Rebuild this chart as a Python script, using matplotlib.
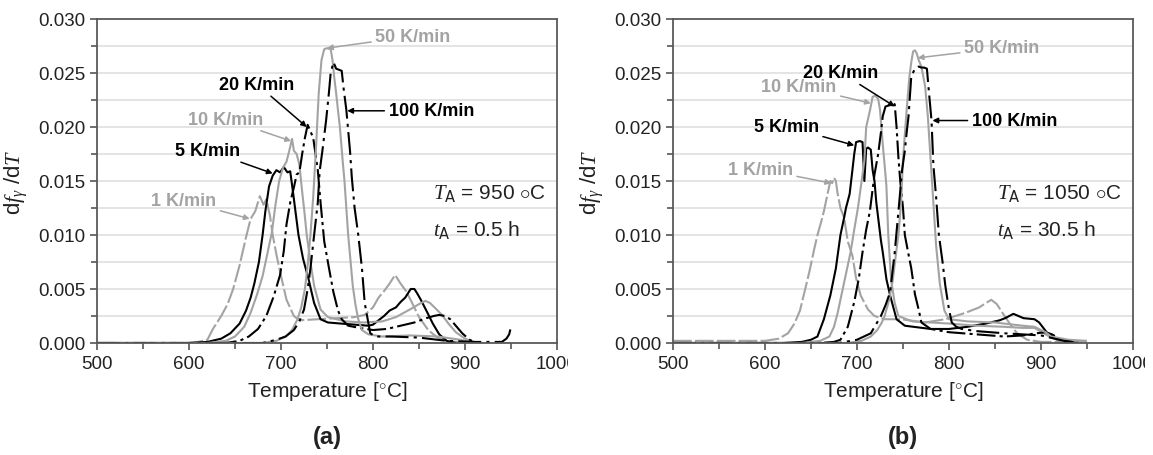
import matplotlib
matplotlib.use("Agg")
import matplotlib.pyplot as plt
from matplotlib.ticker import MultipleLocator, FormatStrFormatter
from matplotlib.transforms import Bbox, TransformedBbox

plt.rcParams['font.family'] = ['Liberation Sans', 'DejaVu Sans']
plt.rcParams['mathtext.fontset'] = 'custom'
plt.rcParams['mathtext.it'] = 'Liberation Serif:italic'
plt.rcParams['mathtext.rm'] = 'Liberation Sans'

# ---- data, panel (a): T_A = 950 C, t_A = 0.5 h ----
T1a = [500, 560, 600, 610, 620, 626, 635, 642, 648, 655, 662, 667, 672, 677, 681, 684, 688, 691, 695,
       700, 706, 714, 720, 740, 760, 780, 791, 800, 806, 812, 818, 824, 830, 836, 842, 850, 860, 870, 880, 900]
V1a = [0, 0, 0, 0.0001, 0.0003, 0.0013, 0.0025, 0.0036, 0.0050, 0.0072, 0.0098, 0.0115, 0.0122, 0.0136,
       0.0128, 0.0133, 0.0118, 0.0100, 0.0082, 0.0062, 0.0040, 0.0025, 0.0021, 0.0022, 0.0023, 0.0024,
       0.0026, 0.0033, 0.0042, 0.0048, 0.0055, 0.0063, 0.0055, 0.0048, 0.0038, 0.0024, 0.0012, 0.0005, 0.0002, 0]
T5a = [500, 600, 620, 635, 645, 655, 662, 667, 671, 676, 680, 683, 687, 691, 695, 699, 703, 707, 710, 713,
       716, 719, 724, 730, 736, 743, 751, 765, 780, 795, 800, 806, 812, 818, 825, 830, 835, 841, 845, 848,
       852, 858, 865, 872, 880, 890]
V5a = [0, 0, 0.0001, 0.0004, 0.0009, 0.0018, 0.0030, 0.0042, 0.0055, 0.0075, 0.0100, 0.0122, 0.0145,
       0.0155, 0.0160, 0.0158, 0.0163, 0.0158, 0.0159, 0.0140, 0.0120, 0.0100, 0.0078, 0.0059, 0.0037,
       0.0022, 0.0019, 0.0018, 0.0017, 0.0016, 0.0017, 0.0021, 0.0025, 0.0030, 0.0033, 0.0038, 0.0042,
       0.0050, 0.0050, 0.0046, 0.0040, 0.0030, 0.0018, 0.0008, 0.0002, 0]
T10a = [500, 620, 640, 650, 660, 667, 674, 680, 685, 690, 694, 698, 702, 706, 709, 712, 714, 717, 720,
        723, 725, 728, 732, 736, 743, 751, 770, 790, 810, 825, 840, 850, 857, 862, 868, 875, 882, 890, 900,
        910, 920]
V10a = [0, 0, 0.0002, 0.0006, 0.0015, 0.0028, 0.0045, 0.0062, 0.0082, 0.0102, 0.0128, 0.0150, 0.0162,
        0.0168, 0.0178, 0.0189, 0.0178, 0.0175, 0.0165, 0.0140, 0.0125, 0.0100, 0.0075, 0.0053, 0.0031,
        0.0024, 0.0020, 0.0019, 0.0020, 0.0024, 0.0031, 0.0036, 0.0039, 0.0037, 0.0032, 0.0026, 0.0018,
        0.0010, 0.0004, 0.0001, 0]
T20a = [500, 640, 655, 665, 675, 684, 692, 699, 703, 706, 710, 714, 717, 720, 723, 726, 729, 732, 735,
        738, 740, 743, 747, 752, 757, 762, 766, 773, 785, 800, 815, 830, 845, 858, 866, 872, 878, 884, 890,
        897, 905, 912]
V20a = [0, 0, 0.0002, 0.0006, 0.0013, 0.0025, 0.0043, 0.0063, 0.0085, 0.0110, 0.0130, 0.0144, 0.0156,
        0.0158, 0.0175, 0.0190, 0.0202, 0.0196, 0.0190, 0.0172, 0.0160, 0.0130, 0.0094, 0.0070, 0.0047,
        0.0030, 0.0022, 0.0016, 0.0014, 0.0012, 0.0013, 0.0016, 0.0019, 0.0023, 0.0025, 0.0026, 0.0025,
        0.0022, 0.0016, 0.0009, 0.0003, 0]
T50a = [500, 680, 695, 705, 712, 718, 722, 726, 729, 732, 735, 738, 741, 744, 747, 750, 754, 756, 758,
        760, 762, 764, 767, 769, 771, 773, 776, 778, 781, 784, 788, 795, 810, 840, 870, 895, 910]
V50a = [0, 0, 0.0002, 0.0006, 0.0012, 0.0022, 0.0033, 0.0050, 0.0072, 0.0100, 0.0135, 0.0180, 0.0231,
        0.0262, 0.0272, 0.0273, 0.0272, 0.0262, 0.0245, 0.0231, 0.0215, 0.0200, 0.0169, 0.0150, 0.0125,
        0.0100, 0.0072, 0.0053, 0.0035, 0.0022, 0.0012, 0.0008, 0.0006, 0.0007, 0.0006, 0.0003, 0]
T100a = [500, 680, 695, 705, 714, 720, 725, 729, 732, 736, 740, 742, 745, 749, 752, 754, 757, 760, 763,
         766, 768, 771, 775, 777, 780, 784, 788, 791, 797, 803, 820, 850, 880, 910, 940, 945, 948, 950]
V100a = [0, 0, 0.0003, 0.0006, 0.0012, 0.0020, 0.0031, 0.0050, 0.0069, 0.0100, 0.0130, 0.0159, 0.0178,
         0.0206, 0.0231, 0.0250, 0.0260, 0.0254, 0.0253, 0.0252, 0.0236, 0.0216, 0.0178, 0.0153, 0.0125,
         0.0100, 0.0069, 0.0037, 0.0009, 0.0006, 0.0006, 0.0005, 0.0002, 0.0001, 0.0001, 0.0004, 0.0008,
         0.0015]

# ---- data, panel (b): T_A = 1050 C, t_A = 30.5 h ----
T1b = [500, 560, 600, 615, 625, 632, 638, 642, 646, 649, 653, 657, 661, 664, 668, 671, 673, 675, 677,
       679, 682, 686, 690, 695, 699, 704, 712, 719, 730, 748, 774, 796, 818, 833, 840, 846, 852, 858, 866,
       874, 885, 900, 950]
V1b = [0.0002, 0.0002, 0.0002, 0.0004, 0.0009, 0.0018, 0.0030, 0.0044, 0.0058, 0.0069, 0.0085, 0.0100,
       0.0112, 0.0122, 0.0138, 0.0150, 0.0148, 0.0153, 0.0150, 0.0138, 0.0125, 0.0116, 0.0094, 0.0081,
       0.0060, 0.0044, 0.0031, 0.0025, 0.0022, 0.0022, 0.0019, 0.0022, 0.0028, 0.0033, 0.0037, 0.0040,
       0.0036, 0.0028, 0.0018, 0.0009, 0.0003, 0.0001, 0.0001]
T5b = [500, 620, 640, 650, 657, 664, 671, 677, 682, 686, 688, 692, 695, 697, 699, 703, 706, 708, 710,
       712, 715, 717, 719, 721, 723, 726, 728, 732, 736, 743, 752, 780, 800, 820, 840, 855, 861, 870, 881,
       893, 898, 907, 918, 929, 935]
V5b = [0, 0, 0.0001, 0.0003, 0.0006, 0.0022, 0.0044, 0.0069, 0.0100, 0.0116, 0.0125, 0.0138, 0.0160,
       0.0175, 0.0186, 0.0187, 0.0186, 0.0150, 0.0180, 0.0181, 0.0179, 0.0160, 0.0150, 0.0130, 0.0116,
       0.0095, 0.0084, 0.0059, 0.0044, 0.0022, 0.0016, 0.0013, 0.0013, 0.0015, 0.0018, 0.0021, 0.0023,
       0.0027, 0.0023, 0.0022, 0.0019, 0.0009, 0.0003, 0.0001, 0]
T10b = [500, 640, 660, 670, 675, 679, 686, 693, 697, 701, 706, 708, 710, 714, 717, 720, 723, 725, 728,
        730, 732, 734, 737, 741, 745, 760, 780, 800, 830, 860, 880, 893, 905, 911, 925]
V10b = [0, 0, 0.0002, 0.0006, 0.0015, 0.0028, 0.0056, 0.0084, 0.0105, 0.0125, 0.0156, 0.0169, 0.0200,
        0.0215, 0.0228, 0.0229, 0.0226, 0.0216, 0.0184, 0.0165, 0.0145, 0.0100, 0.0059, 0.0037, 0.0025,
        0.0020, 0.0019, 0.0018, 0.0016, 0.0015, 0.0014, 0.0014, 0.0008, 0.0005, 0.0001]
T20b = [500, 660, 675, 682, 690, 697, 702, 706, 710, 714, 719, 723, 726, 728, 731, 735, 738, 741, 743,
        745, 747, 750, 752, 756, 759, 763, 767, 770, 780, 800, 830, 860, 880, 895, 905, 912, 918, 925, 933, 940]
V20b = [0, 0, 0.0001, 0.0003, 0.0015, 0.0038, 0.0060, 0.0084, 0.0105, 0.0122, 0.0156, 0.0175, 0.0195,
        0.0210, 0.0219, 0.0220, 0.0222, 0.0221, 0.0200, 0.0172, 0.0150, 0.0125, 0.0100, 0.0082, 0.0069,
        0.0045, 0.0031, 0.0019, 0.0013, 0.0010, 0.0008, 0.0006, 0.0007, 0.0009, 0.0010, 0.0008, 0.0005,
        0.0002, 0.0001, 0]
T50b = [500, 690, 705, 715, 722, 727, 730, 735, 739, 742, 745, 748, 750, 754, 757, 759, 761, 763, 765,
        767, 770, 774, 777, 780, 783, 786, 790, 795, 800, 820, 850, 880, 893, 905, 911, 930, 950]
V50b = [0, 0, 0.0002, 0.0006, 0.0012, 0.0019, 0.0025, 0.0040, 0.0059, 0.0080, 0.0100, 0.0131, 0.0170,
        0.0216, 0.0247, 0.0260, 0.0270, 0.0271, 0.0268, 0.0262, 0.0256, 0.0238, 0.0210, 0.0170, 0.0130,
        0.0090, 0.0055, 0.0030, 0.0022, 0.0020, 0.0019, 0.0016, 0.0015, 0.0010, 0.0006, 0.0003, 0.0002]
T100b = [500, 680, 700, 715, 726, 731, 736, 741, 746, 749, 752, 754, 756, 759, 763, 767, 770, 773, 776,
         778, 781, 783, 786, 789, 793, 796, 800, 803, 808, 814, 830, 860, 880, 900, 915, 925, 935, 940]
V100b = [0, 0, 0.0003, 0.0009, 0.0025, 0.0035, 0.0047, 0.0084, 0.0131, 0.0160, 0.0178, 0.0195, 0.0210,
         0.0247, 0.0254, 0.0256, 0.0255, 0.0255, 0.0254, 0.0234, 0.0206, 0.0165, 0.0135, 0.0100, 0.0075,
         0.0053, 0.0031, 0.0019, 0.0015, 0.0013, 0.0011, 0.0009, 0.0008, 0.0007, 0.0004, 0.0002, 0.0001, 0]

rates = ['1 K/min', '5 K/min', '10 K/min', '20 K/min', '50 K/min', '100 K/min']
panel_a = [(T1a, V1a), (T5a, V5a), (T10a, V10a), (T20a, V20a), (T50a, V50a), (T100a, V100a)]
panel_b = [(T1b, V1b), (T5b, V5b), (T10b, V10b), (T20b, V20b), (T50b, V50b), (T100b, V100b)]
anneal_a = (950, 0.5)
anneal_b = (1050, 30.5)

GRAY = '#a3a3a3'
styles = [
    dict(color=GRAY, ls=(0, (9, 1.5))),
    dict(color='black', ls='-'),
    dict(color=GRAY, ls='-'),
    dict(color='black', ls=(0, (9, 2, 1.5, 2))),
    dict(color=GRAY, ls='-'),
    dict(color='black', ls=(0, (11, 2.5, 1.5, 2.5))),
]

# label arrow targets (data) and text offsets (pixels)
tips_a = [(666, 0.0115), (691, 0.0157), (711, 0.0187), (728, 0.0200), (750, 0.0273), (772, 0.0215)]
tips_b = [(672, 0.0148), (697, 0.0183), (715, 0.0222), (741, 0.0219), (766, 0.0264), (782, 0.0206)]
offs_a = [(-66, 18), (-65, 23), (-65, 22), (-50, 43), (86, 12), (84, 0)]
offs_b = [(-71, 14), (-68, 19), (-72, 17), (-54, 34), (84, 10), (82, 0)]

W, H = 1153, 456
fig = plt.figure(figsize=(W / 100, H / 100), dpi=100)
ax_a = fig.add_axes([97 / W, 112 / H, 460 / W, 324 / H])
ax_b = fig.add_axes([673 / W, 112 / H, 460 / W, 324 / H])


def draw_panel(ax, curves, tips, offs, anneal, tag, tx, cut_px):
    for (T, V), st in zip(curves, styles):
        ax.plot(T, V, lw=1.5, solid_capstyle='butt', **st)
    for name, st, tip, off in zip(rates, styles, tips, offs):
        col = st['color']
        ax.annotate(name, xy=tip, xycoords='data', xytext=off, textcoords='offset pixels',
                    ha='center', va='center', fontsize=13, fontweight='bold', color=col,
                    arrowprops=dict(arrowstyle='-|>', color=col, lw=1.1, mutation_scale=8,
                                    shrinkA=1, shrinkB=0))
    ax.set_xlim(500, 1000)
    ax.set_ylim(0, 0.030)
    ax.xaxis.set_major_locator(MultipleLocator(100))
    ax.xaxis.set_minor_locator(MultipleLocator(50))
    ax.yaxis.set_major_locator(MultipleLocator(0.005))
    ax.yaxis.set_minor_locator(MultipleLocator(0.0025))
    ax.yaxis.set_major_formatter(FormatStrFormatter('%.3f'))
    ax.grid(True, axis='y', which='both', color='#e2e2e2', lw=1.3)
    ax.set_axisbelow(True)
    ax.tick_params(which='both', direction='out', colors='#555555', labelcolor='#222222', labelsize=13.5)
    ax.tick_params(which='major', length=5, width=1.2)
    ax.tick_params(which='minor', length=4, width=1.2)
    for s in ax.spines.values():
        s.set_color('#5a5a5a')
        s.set_linewidth(1.3)
    ax.set_xlabel('Temperature [$^{\\circ}$C]', fontsize=15, color='#222222', labelpad=5)
    ax.set_ylabel(r'd$\mathit{f}_{\gamma}$ /d$\mathsf{\mathit{T}}$', fontsize=16, color='#222222', labelpad=6)
    ax.text(tx, 0.466, r'$\mathit{T}_{\mathsf{A}}$ = %d $\circ$C' % anneal[0], transform=ax.transAxes,
            fontsize=15, va='center', ha='left', color='#222222')
    ax.text(tx, 0.352, r'$\mathit{t}_{\mathsf{A}}$ = %s h' % anneal[1], transform=ax.transAxes,
            fontsize=15, va='center', ha='left', color='#222222')
    ax.text(0.5, -0.29, tag, transform=ax.transAxes, ha='center', va='center',
            fontsize=17, fontweight='bold', color='#222222')
    # the last tick label is cut off in the source figure
    clip = TransformedBbox(Bbox([[0, 0], [cut_px / W, 1]]), fig.transFigure)
    for lab in ax.get_xticklabels():
        lab.set_clip_box(clip)
        lab.set_clip_on(True)


draw_panel(ax_a, panel_a, tips_a, offs_a, anneal_a, '(a)', 0.73, 568)
draw_panel(ax_b, panel_b, tips_b, offs_b, anneal_b, '(b)', 0.705, 1145)

fig.savefig('out.png', dpi=100)
